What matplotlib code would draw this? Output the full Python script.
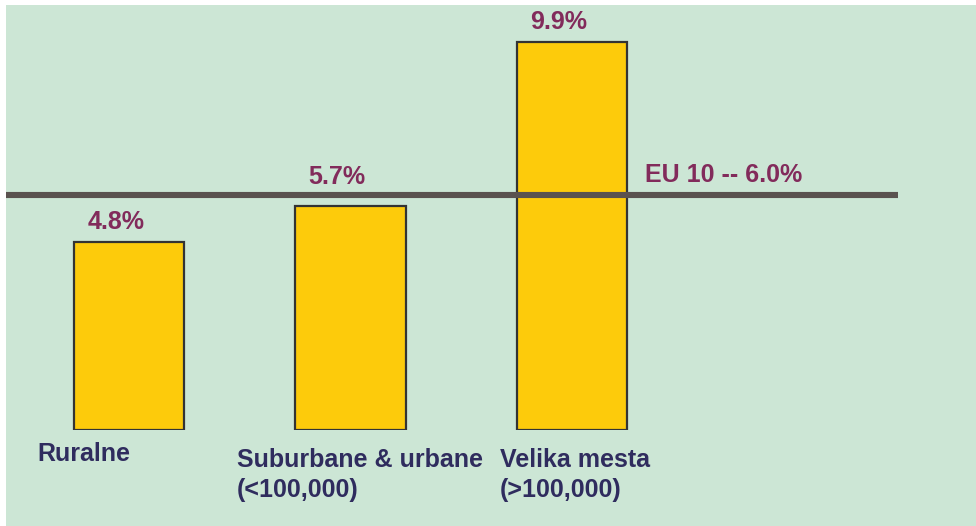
import matplotlib
matplotlib.use('Agg')
import matplotlib.pyplot as plt
from matplotlib.patches import Rectangle

# Data
categories = ['Ruralne', 'Suburbane & urbane\n(<100,000)', 'Velika mesta\n(>100,000)']
values = [4.8, 5.7, 9.9]
eu_value = 6.0
eu_label = 'EU 10 -- 6.0%'

bg = '#cce6d5'
bar_color = '#fdcb0b'
value_color = '#822b5b'
cat_color = '#2f2c5e'

plt.rcParams['font.family'] = ['Liberation Sans', 'DejaVu Sans']

W, H = 976, 526
fig = plt.figure(figsize=(W / 100, H / 100), dpi=100, facecolor='white')
fig.patches.append(Rectangle((6 / W, 0), 1, 1 - 5 / H, transform=fig.transFigure,
                             facecolor=bg, edgecolor='none', zorder=-10))

# axes span the pixel box of the EU line (x 6..898) and value 0..10.5 (y 430..18)
ax = fig.add_axes([6 / W, (H - 430) / H, 892 / W, 412 / H])
ax.set_zorder(1)
ax.set_facecolor('none')
ax.set_xlim(-0.555, 3.472)
ax.set_ylim(0, 10.5)
ax.axis('off')

x = list(range(len(categories)))
ax.bar(x, values, width=0.5, color=bar_color, edgecolor='#333333', linewidth=1.6, zorder=2)

ax.axhline(eu_value, color='#5a524f', linewidth=4.4, zorder=3)
ax.text(2.33, eu_value + 0.2, eu_label, color=value_color, fontsize=18,
        fontweight='bold', ha='left', va='bottom')

# the 5.7% label sits above the EU line instead of right on the bar
label_lift = [0.2, 0.45, 0.2]
for xi, v, lift in zip(x, values, label_lift):
    ax.text(xi - 0.06, v + lift, f'{v:.1f}%', color=value_color, fontsize=18,
            fontweight='bold', ha='center', va='bottom', zorder=4)

cat_offsets = [-0.415, -0.513, -0.325]
cat_y = [-0.3, -0.47, -0.47]
for xi, lab, dx, yy in zip(x, categories, cat_offsets, cat_y):
    ax.text(xi + dx, yy, lab, color=cat_color, fontsize=18, fontweight='bold',
            ha='left', va='top', linespacing=1.3, clip_on=False)

fig.savefig('out.png', dpi=100, facecolor='white')
